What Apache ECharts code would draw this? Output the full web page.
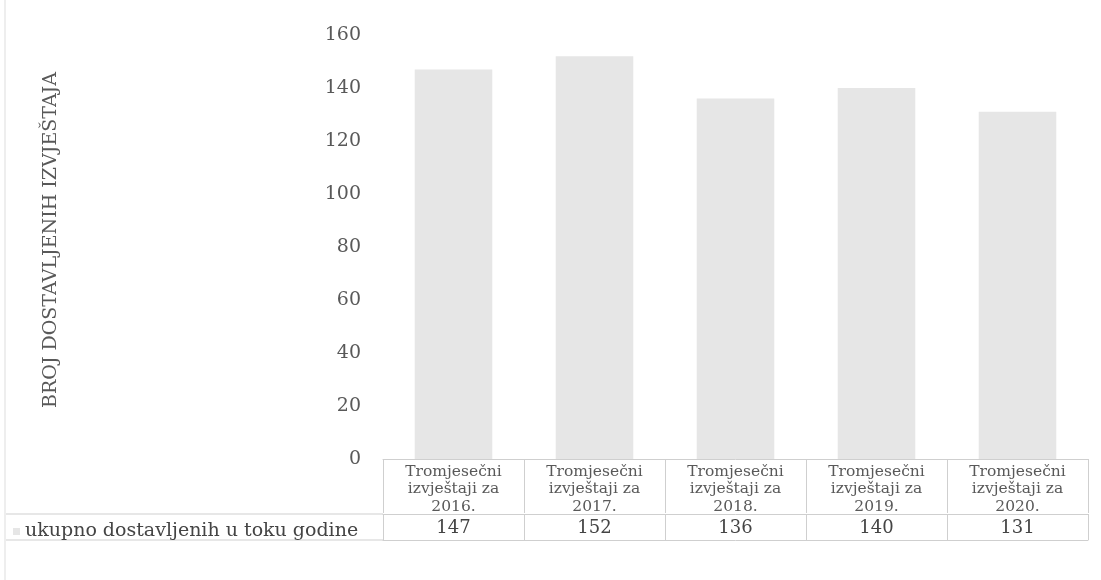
<!DOCTYPE html>
<html><head><meta charset="utf-8">
<script src="https://cdn.jsdelivr.net/npm/echarts@6/dist/echarts.min.js"></script>
<style>html,body{margin:0;padding:0;background:#fff}#c{width:1101px;height:580px}</style>
</head><body><div id="c"></div>
<script>
const categories = ["Tromjesečni\nizvještaji za\n2016.","Tromjesečni\nizvještaji za\n2017.","Tromjesečni\nizvještaji za\n2018.","Tromjesečni\nizvještaji za\n2019.","Tromjesečni\nizvještaji za\n2020."];
const seriesName = "ukupno dostavljenih u toku godine";
const values = [147, 152, 136, 140, 131];
const yTicks = {min: 0, max: 160, interval: 20};
const yTitle = "BROJ DOSTAVLJENIH IZVJEŠTAJA";

const font = "DejaVu Serif";
const txt = "#595959";
const line = "#cfcfcf";
const chart = echarts.init(document.getElementById('c'));
chart.setOption({
  backgroundColor: '#fff',
  animation: false,
  textStyle: {fontFamily: font},
  grid: {left: 383, right: 13, top: 35, bottom: 121},
  legend: {
    left: 8, top: 517, itemWidth: 7, itemHeight: 7, itemGap: 5,
    icon: 'rect', data: [seriesName],
    textStyle: {fontFamily: font, fontSize: 19, color: '#444'}
  },
  xAxis: [
    {type: 'category', data: categories, position: 'bottom',
     axisLine: {show: true, lineStyle: {color: line, width: 1}},
     axisTick: {show: true, length: 54, lineStyle: {color: line}},
     axisLabel: {fontFamily: font, fontSize: 15.5, color: txt, lineHeight: 17.5, margin: 4, interval: 0}},
    {type: 'category', data: values.map(String), position: 'bottom', offset: 55,
     axisLine: {show: true, lineStyle: {color: line, width: 1}},
     axisTick: {show: true, length: 26, lineStyle: {color: line}},
     axisLabel: {fontFamily: font, fontSize: 18, color: '#444', margin: 5, interval: 0}},
    {type: 'category', data: values.map(String), position: 'bottom', offset: 81,
     axisLine: {show: true, lineStyle: {color: line, width: 1}},
     axisTick: {show: false}, axisLabel: {show: false}}
  ],
  yAxis: {
    type: 'value', min: yTicks.min, max: yTicks.max, interval: yTicks.interval,
    name: yTitle, nameLocation: 'middle', nameGap: 322,
    nameTextStyle: {fontFamily: font, fontSize: 19, color: txt, padding: [0, 0, 0, 14]},
    axisLine: {show: false}, axisTick: {show: false}, splitLine: {show: false},
    axisLabel: {fontFamily: font, fontSize: 19, color: txt, margin: 22}
  },
  series: [{
    name: seriesName, type: 'bar', data: values, barWidth: '55%',
    itemStyle: {color: '#e6e6e6'}
  }],
  graphic: [
    {type: 'line', shape: {x1: 6, y1: 514, x2: 383, y2: 514}, style: {stroke: line, lineWidth: 1}},
    {type: 'line', shape: {x1: 6, y1: 540, x2: 383, y2: 540}, style: {stroke: line, lineWidth: 1}},
    {type: 'line', shape: {x1: 5, y1: 0, x2: 5, y2: 580}, style: {stroke: '#dddddd', lineWidth: 1}}
  ]
});
</script></body></html>
